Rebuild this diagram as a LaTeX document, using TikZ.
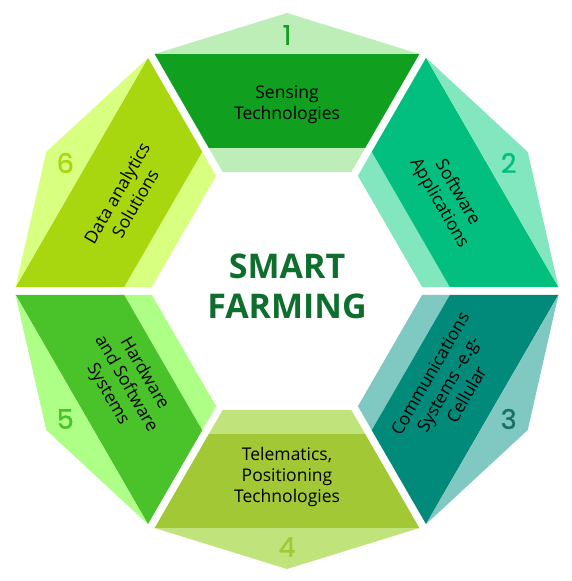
\documentclass[tikz,border=0pt]{standalone}
\usepackage{fontspec}
\setmainfont{Open Sans}
\newfontfamily\numfont{Poppins}[FakeBold=1.2]
\usepackage{xcolor}
\definecolor{sensdark}{RGB}{16,159,31}
\definecolor{senslight}{RGB}{189,238,184}
\definecolor{softdark}{RGB}{2,191,128}
\definecolor{softlight}{RGB}{130,230,191}
\definecolor{commdark}{RGB}{1,138,122}
\definecolor{commlight}{RGB}{128,201,194}
\definecolor{commnum}{RGB}{24,112,102}
\definecolor{teledark}{RGB}{163,200,54}
\definecolor{telelight}{RGB}{192,227,123}
\definecolor{harddark}{RGB}{74,195,42}
\definecolor{hardlight}{RGB}{174,255,134}
\definecolor{datadark}{RGB}{169,215,15}
\definecolor{datalight}{RGB}{217,255,128}
\definecolor{titlegreen}{RGB}{14,110,46}

\begin{document}
\begin{tikzpicture}[x=1pt,y=1pt,
  seglabel/.style={align=center,text=black,font=\fontsize{17.5}{21}\selectfont},
  segnum/.style={font=\numfont\fontsize{27}{27}\selectfont},
  hub/.style={align=center,text=titlegreen,font=\bfseries\fontsize{34}{40}\selectfont}
]
\useasboundingbox (-287,-290) rectangle (285,291);
\foreach \ang/\dk/\lt/\nc/\num/\rot/\txt in {
  90/sensdark/senslight/sensdark/1/0/{Sensing\\Technologies},
  30/softdark/softlight/softdark/2/-60/{Software\\Applications},
  -30/commdark/commlight/commnum/3/60/{Communications\\Systems -e.g-\\Cellular},
  -90/teledark/telelight/teledark/4/0/{Telematics,\\Positioning\\Technologies},
  -150/harddark/hardlight/harddark/5/-60/{Hardware\\and Software\\Systems},
  150/datadark/datalight/datadark/6/60/{Data analytics\\Solutions}}
{
  \begin{scope}[rotate=\ang-90]
    % inner strip, main band, outer cap
    \fill[\lt] (-64.3,119) -- (64.3,119) -- (78.2,143) -- (-78.2,143) -- cycle;
    \fill[\dk] (-78.2,143) -- (78.2,143) -- (132.4,237) -- (-132.4,237) -- cycle;
    \fill[\lt] (-132.4,237) -- (0,278) -- (132.4,237) -- cycle;
  \end{scope}
  \node[seglabel,rotate=\rot] (lbl\num) at (\ang:186) {\txt};
  \node[segnum,text=\nc] (num\num) at (\ang:256) {\num};
}
\node[hub] (hub) at (0,5) {SMART\\FARMING};
\end{tikzpicture}
\end{document}
